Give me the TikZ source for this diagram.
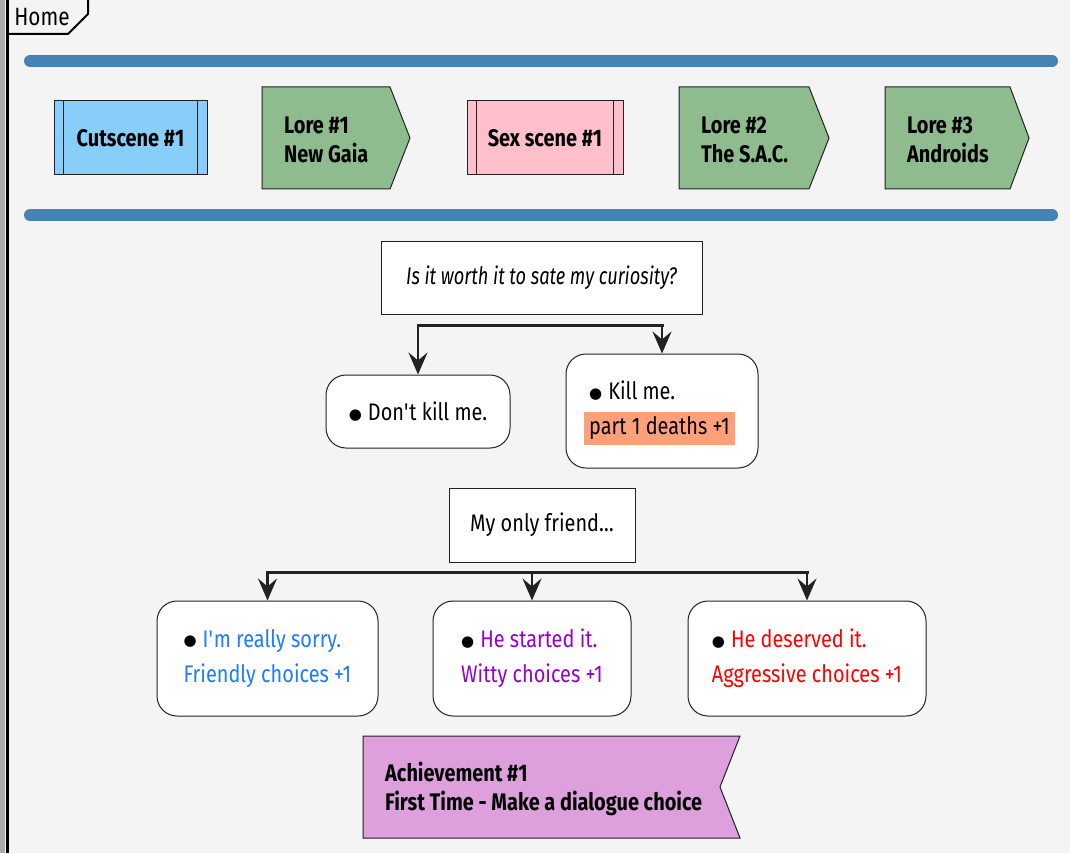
\documentclass[tikz,border=0pt]{standalone}
\usepackage{fontspec}
\setmainfont{Fira Sans}[FakeStretch=0.83]
\newfontfamily\questionfont{Fira Sans}[FakeStretch=0.76]
\newfontfamily\dotfont{DejaVu Sans}
\usetikzlibrary{arrows.meta, calc, positioning}
\definecolor{pagebg}{HTML}{F4F4F4}
\definecolor{barblue}{HTML}{4682B4}
\definecolor{cutblue}{HTML}{87CEFA}
\definecolor{sexpink}{HTML}{FFC0CB}
\definecolor{loregreen}{HTML}{8FBC8F}
\definecolor{achplum}{HTML}{DDA0DD}
\definecolor{deathsalmon}{HTML}{FFA07A}
\definecolor{friendblue}{HTML}{1E7BFF}
\definecolor{wittyviolet}{HTML}{9400D3}
\definecolor{aggrored}{HTML}{FF0000}
\definecolor{linegray}{HTML}{222222}
\newcommand\choicedot{{\dotfont\fontsize{15}{15}\selectfont\raisebox{1.5pt}{●}}\hspace{6pt}}
\tikzset{scene/.style={draw=linegray, line width=1pt, minimum width=153pt, minimum height=74pt, inner sep=0pt, font=\bfseries\fontsize{24}{29}\selectfont}}
\tikzset{shapetext/.style={anchor=west, align=left, inner sep=0pt, yshift=-2pt, font=\bfseries\fontsize{24}{29}\selectfont}}
\tikzset{shapefill/.style={draw=linegray, line width=1pt}}
\tikzset{question/.style={draw=linegray, fill=white, line width=0.8pt, inner sep=0pt, font=\fontsize{24}{29}\selectfont}}
\tikzset{choice/.style={draw=linegray, fill=white, line width=1pt, rounded corners=20pt, inner sep=0pt, align=left, font=\fontsize{24}{35}\selectfont}}
\tikzset{split/.style={draw=linegray, line width=3pt, line cap=rect}}
\tikzset{branch/.style={draw=linegray, line width=2.5pt, -{Stealth[length=22pt, width=19pt, inset=8pt]}}}
\tikzset{bluebar/.style={draw=barblue, line width=12pt, line cap=round}}

\begin{document}
\begin{tikzpicture}[x=1pt, y=-1pt]
\useasboundingbox (0,0) rectangle (1070,853);
\fill[pagebg] (0,0) rectangle (1070,853);
\fill[gray!65] (0,0) rectangle (5,853);
\draw[line width=3pt] (7,-2) -- (7,855);
\draw[line width=2pt] (7,34) -- (68,34) -- (88,14) -- (88,-2);
\node[inner sep=0pt, font=\fontsize{25}{28}\selectfont] (home) at (42,17) {Home};

\draw[bluebar] (30,61) -- (1052,61);
\draw[bluebar] (30,215) -- (1052,215);

\node[scene, fill=cutblue] (cut1) at (130.5,138) {Cutscene \#1};
\draw[shapefill] ([xshift=10pt]cut1.north west) -- ([xshift=10pt]cut1.south west);
\draw[shapefill] ([xshift=-10pt]cut1.north east) -- ([xshift=-10pt]cut1.south east);
\filldraw[shapefill, fill=loregreen] (262,87) -- (390,87) -- (410,138) -- (390,189) -- (262,189) -- cycle;
\node[shapetext] (lore1) at (284,138) {Lore \#1\\New Gaia};
\node[scene, fill=sexpink, minimum width=156pt] (sex1) at (545,138) {Sex scene \#1};
\draw[shapefill] ([xshift=10pt]sex1.north west) -- ([xshift=10pt]sex1.south west);
\draw[shapefill] ([xshift=-10pt]sex1.north east) -- ([xshift=-10pt]sex1.south east);
\filldraw[shapefill, fill=loregreen] (679,87) -- (809,87) -- (829,138) -- (809,189) -- (679,189) -- cycle;
\node[shapetext] (lore2) at (701,138) {Lore \#2\\The S.A.C.};
\filldraw[shapefill, fill=loregreen] (885,87) -- (1010,87) -- (1029,138) -- (1010,189) -- (885,189) -- cycle;
\node[shapetext] (lore3) at (907,138) {Lore \#3\\Androids};

\node[question, minimum width=321pt, minimum height=73pt] (curious) at (541.5,277.5) {\questionfont\itshape\raisebox{-2pt}{Is it worth it to sate my curiosity?}};
\node[choice, minimum width=184pt, minimum height=73pt] (dontkill) at (418,411.5) {\choicedot Don\textquotesingle t kill me.};
\node[choice, minimum width=192pt, minimum height=114pt] (killme) at (662,411) {\rule{0pt}{23pt}\choicedot Kill me.\\{\setlength{\fboxsep}{5pt}\hspace*{-5pt}\colorbox{deathsalmon}{part 1 deaths +1}}};
\coordinate (fork1) at ($(curious.south)+(0,11)$);
\draw[split] (fork1 -| dontkill.north) -- (fork1 -| killme.north);
\draw[branch] (fork1 -| dontkill.north) -- (dontkill.north);
\draw[branch] (fork1 -| killme.north) -- (killme.north);

\node[question, minimum width=186pt, minimum height=74pt] (friend) at (542,525) {\raisebox{-2pt}{My only friend…}};
\node[choice, minimum width=221pt, minimum height=115pt] (sorry) at (267.5,658.5) {\choicedot\textcolor{friendblue}{I\textquotesingle m really sorry.}\\\textcolor{friendblue}{Friendly choices +1}};
\node[choice, minimum width=198pt, minimum height=115pt] (started) at (532,658.5) {\choicedot\textcolor{wittyviolet}{He started it.}\\\textcolor{wittyviolet}{Witty choices +1}};
\node[choice, minimum width=238pt, minimum height=115pt] (deserved) at (807,658.5) {\choicedot\textcolor{aggrored}{He deserved it.}\\\textcolor{aggrored}{Aggressive choices +1}};
\coordinate (fork2) at ($(friend.south)+(0,10)$);
\draw[split] (fork2 -| sorry.north) -- (fork2 -| deserved.north);
\draw[branch] (fork2 -| sorry.north) -- (sorry.north);
\draw[branch] (fork2 -| started.north) -- (started.north);
\draw[branch] (fork2 -| deserved.north) -- (deserved.north);

\filldraw[shapefill, fill=achplum] (363,736) -- (740,736) -- (720,787) -- (740,838) -- (363,838) -- cycle;
\node[shapetext] (achieve1) at (385,787) {Achievement \#1\\First Time - Make a dialogue choice};
\end{tikzpicture}
\end{document}
